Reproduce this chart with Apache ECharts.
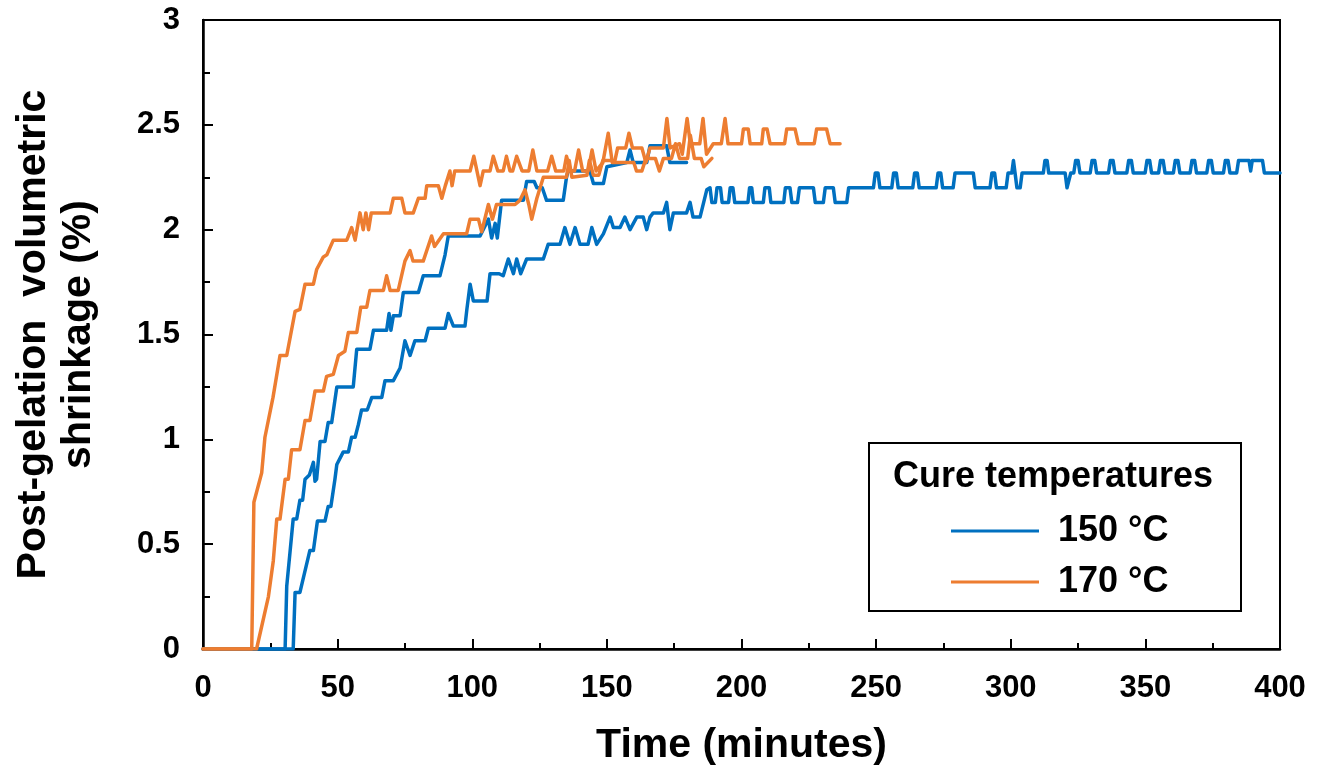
<!DOCTYPE html>
<html>
<head>
<meta charset="utf-8">
<script src="https://cdn.jsdelivr.net/npm/echarts@6/dist/echarts.min.js"></script>
<style>
html, body { margin: 0; padding: 0; background: #fff; }
#chart { width: 1323px; height: 782px; }
</style>
</head>
<body>
<div id="chart"></div>
<script>
// 150 °C, first run (stops near 180 min)
var t150a = [0, 30.5, 31.1, 32.3, 33.5, 34.8, 36, 37, 37.9, 39.5, 41, 41.6, 42.2, 43.5, 45.3, 46.5, 47.8, 49.7, 55.8, 57.1, 62, 63.3, 68.2, 69.1, 69.8, 70.7, 73.2, 74.4, 80, 81.8, 88, 89.9, 91.1, 102.9, 106, 107.2, 108.5, 109.3, 110.9, 119, 120.2, 123, 124, 126, 127.6, 133.8, 135, 135.6, 143.7, 145, 148.7, 150, 157.4, 158.6, 159.8, 164.8, 166, 172.2, 173.4, 179.6];
var v150a = [0, 0, 0.3, 0.46, 0.62, 0.62, 0.71, 0.71, 0.81, 0.83, 0.89, 0.8, 0.81, 0.99, 0.99, 1.08, 1.08, 1.25, 1.25, 1.43, 1.43, 1.52, 1.52, 1.6, 1.52, 1.59, 1.59, 1.7, 1.7, 1.78, 1.78, 1.88, 1.97, 1.97, 2.05, 1.96, 2.03, 1.96, 2.14, 2.14, 2.23, 2.23, 2.2, 2.2, 2.14, 2.14, 2.25, 2.28, 2.28, 2.22, 2.22, 2.3, 2.32, 2.38, 2.32, 2.32, 2.4, 2.4, 2.32, 2.32];

// 150 °C, second run (to 400 min)
var t150b = [0, 33.5, 34.2, 36, 39.7, 41, 42.5, 45.3, 46.5, 47.5, 49, 49.7, 52.1, 54, 55.2, 56.5, 57.7, 58.9, 61, 62.7, 66.4, 67.6, 70.7, 73.2, 75, 76.9, 78.7, 82.5, 83.7, 89.9, 91.1, 93, 97.3, 98, 99.2, 100.4, 105.5, 106.6, 110, 111.5, 113.4, 115.3, 116.5, 118, 120.2, 126.4, 128.2, 132.6, 134.4, 136.3, 138.2, 140, 143, 144.4, 146.2, 148.7, 151.2, 152.4, 154.9, 156.7, 158.6, 161.1, 163.5, 164.8, 166, 167.2, 171, 172.2, 173.4, 174.7, 179.6, 180.9, 182, 184.6,
  187.1, 188.3, 189.0,
  190.3, 190.9, 192.2, 192.8,
  195.2, 195.8, 196.8, 197.5,
  202.4, 203, 203.8, 204.4,
  208.1, 208.7, 210.3, 210.9,
  215.7, 216.3, 218, 218.7,
  220.8, 221.5, 226.7, 227.4,
  230.4, 231.1, 234.1, 234.8,
  239.1, 239.8,
  249, 249.7, 250.7, 251.4,
  255.8, 256.5, 257.5, 258.2,
  263.6, 264.3, 265.3, 266,
  272.3, 273, 274, 274.7,
  278.6, 279.3, 286.1, 286.8,
  292.3, 293, 294, 294.7,
  298.3, 299, 300.4, 301, 301.6, 302.3, 303.5, 304.2,
  312.1, 312.7, 313.5, 314.1,
  320.2, 320.9, 321.6, 322.3, 323.4, 324.1, 325, 325.7,
  329.5, 330.2, 331.2, 331.9,
  336.3, 337, 338, 338.7,
  343.1, 343.8, 344.8, 345.5,
  349.9, 350.6, 351.6, 352.3,
  354.9, 355.6, 356.6, 357.3,
  360.4, 361.1, 362.1, 362.8,
  366.6, 367.3, 368.3, 369,
  372.8, 373.5, 374.5, 375.2,
  379, 379.7, 380.7, 381.4,
  383.9, 384.6, 388.5, 389.1, 389.7, 393.5, 394.2, 400];
var v150b = [0, 0, 0.27, 0.27, 0.47, 0.47, 0.61, 0.61, 0.68, 0.68, 0.81, 0.88, 0.94, 0.94, 1.01, 1.01, 1.07, 1.14, 1.14, 1.2, 1.2, 1.28, 1.28, 1.34, 1.47, 1.4, 1.47, 1.47, 1.53, 1.53, 1.6, 1.54, 1.54, 1.62, 1.74, 1.66, 1.66, 1.79, 1.79, 1.78, 1.86, 1.79, 1.86, 1.79, 1.86, 1.86, 1.93, 1.93, 2.01, 1.93, 2.01, 1.93, 1.93, 2.01, 1.93, 1.98, 2.06, 2.01, 2.01, 2.06, 2.0, 2.06, 2.06, 2.0, 2.06, 2.08, 2.08, 2.13, 2.0, 2.08, 2.08, 2.13, 2.06, 2.06,
  2.19, 2.2, 2.13,
  2.13, 2.2, 2.2, 2.13,
  2.13, 2.2, 2.2, 2.13,
  2.13, 2.2, 2.2, 2.13,
  2.13, 2.2, 2.2, 2.13,
  2.13, 2.2, 2.2, 2.13,
  2.13, 2.2, 2.2, 2.13,
  2.13, 2.2, 2.2, 2.13,
  2.13, 2.2,
  2.2, 2.27, 2.27, 2.2,
  2.2, 2.27, 2.27, 2.2,
  2.2, 2.27, 2.27, 2.2,
  2.2, 2.27, 2.27, 2.2,
  2.2, 2.27, 2.27, 2.2,
  2.2, 2.27, 2.27, 2.2,
  2.2, 2.27, 2.27, 2.33, 2.27, 2.2, 2.2, 2.27,
  2.27, 2.33, 2.33, 2.27,
  2.27, 2.2, 2.2, 2.27, 2.27, 2.33, 2.33, 2.27,
  2.27, 2.33, 2.33, 2.27,
  2.27, 2.33, 2.33, 2.27,
  2.27, 2.33, 2.33, 2.27,
  2.27, 2.33, 2.33, 2.27,
  2.27, 2.33, 2.33, 2.27,
  2.27, 2.33, 2.33, 2.27,
  2.27, 2.33, 2.33, 2.27,
  2.27, 2.33, 2.33, 2.27,
  2.27, 2.33, 2.33, 2.27,
  2.27, 2.33, 2.33, 2.28, 2.33, 2.33, 2.27, 2.27];

// 170 °C, first run (stops near 189 min)
var t170a = [0, 18.1, 18.9, 21.8, 23, 26, 28.6, 31.1, 34.2, 36, 37.9, 41, 42.2, 44.7, 46, 48.4, 53.4, 55.2, 56.5, 58.3, 59.5, 60.5, 61.5, 62.5, 69.5, 70.7, 73.8, 75, 78.1, 80, 82.5, 83.1, 87.4, 88.7, 90, 91.7, 92.5, 93.5, 99.2, 100.6, 102.9, 104.1, 106.6, 107.8, 109.5, 111.5, 112.7, 114, 115, 116.5, 118.5, 121, 122.5, 124, 128, 129.5, 131, 134, 135, 136.5, 138, 139.5, 141, 143, 144.5, 146, 148.5, 150.5, 152, 160, 161, 163, 164.5, 168, 169.5, 171, 174, 175.5, 177, 180, 181, 182.5, 185, 186, 189];
var v170a = [0, 0, 0.7, 0.84, 1.01, 1.2, 1.4, 1.4, 1.61, 1.62, 1.74, 1.74, 1.81, 1.87, 1.88, 1.95, 1.95, 2.01, 1.95, 2.08, 2.0, 2.08, 2.0, 2.08, 2.08, 2.15, 2.15, 2.08, 2.08, 2.15, 2.15, 2.21, 2.21, 2.15, 2.21, 2.28, 2.21, 2.28, 2.28, 2.35, 2.21, 2.28, 2.28, 2.35, 2.28, 2.28, 2.35, 2.28, 2.28, 2.35, 2.28, 2.28, 2.38, 2.28, 2.28, 2.35, 2.28, 2.28, 2.35, 2.28, 2.28, 2.38, 2.28, 2.28, 2.38, 2.28, 2.32, 2.46, 2.32, 2.32, 2.28, 2.28, 2.34, 2.34, 2.28, 2.34, 2.34, 2.41, 2.34, 2.34, 2.45, 2.34, 2.34, 2.3, 2.34];

// 170 °C, second run (to ~237 min)
var t170b = [0, 19.9, 24.3, 26.1, 27.4, 28.6, 30.5, 31.7, 32.9, 36, 37.9, 39.7, 41.6, 44.7, 45.9, 48.4, 50.3, 52.7, 54, 57.1, 58.6, 60.8, 62, 67, 68.2, 69.5, 72.5, 75, 76.9, 78, 81.8, 84.9, 86, 89.3, 97.9, 99.2, 102.3, 103.5, 106, 107.5, 109, 115.9, 117.7, 119.6, 121, 122.1, 124, 126.4, 135, 136, 137, 142.6, 143.5, 145, 147, 148.5, 153, 154, 157, 158.2, 159.5, 163, 164.5, 166, 171, 172.3, 173.5, 177, 178, 179.8, 181, 184.5, 185.7, 187, 189.5, 192.5, 193.9, 195, 200, 200.7, 202.5, 203.2, 207.5, 208.1, 209.5, 210.6, 216, 216.8, 219.9, 221.1, 227, 227.9, 231.6, 232.9, 236.6];
var v170b = [0, 0, 0.25, 0.42, 0.62, 0.62, 0.81, 0.81, 0.95, 0.95, 1.09, 1.09, 1.23, 1.23, 1.3, 1.31, 1.4, 1.42, 1.51, 1.51, 1.63, 1.63, 1.71, 1.71, 1.78, 1.71, 1.71, 1.85, 1.9, 1.85, 1.85, 1.97, 1.92, 1.98, 1.98, 2.05, 2.05, 1.99, 2.12, 2.05, 2.12, 2.12, 2.14, 2.19, 2.12, 2.05, 2.15, 2.25, 2.25, 2.33, 2.25, 2.26, 2.33, 2.26, 2.26, 2.33, 2.33, 2.39, 2.39, 2.46, 2.39, 2.39, 2.32, 2.39, 2.39, 2.53, 2.39, 2.41, 2.36, 2.53, 2.41, 2.41, 2.53, 2.36, 2.41, 2.41, 2.53, 2.41, 2.41, 2.48, 2.48, 2.41, 2.41, 2.48, 2.48, 2.41, 2.41, 2.48, 2.48, 2.41, 2.41, 2.48, 2.48, 2.41, 2.41];

var xTicks = [0, 400, 50];
var yTicks = [0, 3, 0.5];
var legendNames = ["150 °C", "170 °C"];

function pairs(t, v) {
  return t.map(function (x, i) { return [x, v[i]]; });
}

var font = "'Liberation Sans', Arial, sans-serif";
var blue = "#0070C0";
var orange = "#ED7D31";

function lineSeries(name, color, t, v) {
  return {
    name: name,
    type: "line",
    showSymbol: false,
    symbol: "none",
    color: color,
    lineStyle: { width: 3.5, color: color, join: "round", cap: "round" },
    data: pairs(t, v)
  };
}

var chart = echarts.init(document.getElementById("chart"));
chart.setOption({
  animation: false,
  backgroundColor: "#fff",
  grid: {
    left: 203, right: 43, top: 20, bottom: 133,
    show: true, borderColor: "#000", borderWidth: 2
  },
  xAxis: {
    type: "value",
    min: xTicks[0], max: xTicks[1], interval: xTicks[2],
    name: "Time (minutes)",
    nameLocation: "middle",
    nameGap: 74,
    nameTextStyle: { fontFamily: font, fontWeight: "bold", fontSize: 41, color: "#000", lineHeight: 45 },
    axisLine: { lineStyle: { color: "#000", width: 2.5 } },
    axisTick: { inside: true, length: 10, lineStyle: { color: "#000", width: 2 } },
    minorTick: { show: true, splitNumber: 2, length: 6, lineStyle: { color: "#000", width: 2 } },
    splitLine: { show: false },
    axisLabel: { margin: 24, fontFamily: font, fontWeight: "bold", fontSize: 31, color: "#000" }
  },
  yAxis: {
    type: "value",
    min: yTicks[0], max: yTicks[1], interval: yTicks[2],
    name: "Post-gelation  volumetric\nshrinkage (%)",
    nameLocation: "middle",
    nameGap: 102,
    nameTextStyle: { fontFamily: font, fontWeight: "bold", fontSize: 41, color: "#000", lineHeight: 45 },
    axisLine: { lineStyle: { color: "#000", width: 2.5 } },
    axisTick: { inside: true, length: 10, lineStyle: { color: "#000", width: 2 } },
    minorTick: { show: true, splitNumber: 2, length: 7, lineStyle: { color: "#000", width: 2 } },
    splitLine: { show: false },
    axisLabel: { margin: 23, fontFamily: font, fontWeight: "bold", fontSize: 31, color: "#000" }
  },
  legend: {
    data: legendNames,
    orient: "vertical",
    left: 951, top: 511,
    padding: 0,
    z: 20,
    itemWidth: 88, itemHeight: 3, itemGap: 11,
    icon: "rect",
    selectedMode: false,
    textStyle: { fontFamily: font, fontWeight: "bold", fontSize: 36, color: "#000", lineHeight: 40, padding: [0, 0, 0, 14] }
  },
  graphic: [
    {
      type: "rect",
      x: 869, y: 443,
      shape: { x: 0, y: 0, width: 372, height: 168 },
      style: { fill: "#fff", stroke: "#000", lineWidth: 2 },
      z: 10
    },
    {
      type: "text",
      x: 1053, y: 477,
      style: {
        text: "Cure temperatures",
        font: "bold 36px " + font,
        fill: "#000",
        align: "center", verticalAlign: "middle"
      },
      z: 11
    }
  ],
  series: [
    lineSeries(legendNames[0], blue, t150a, v150a),
    lineSeries(legendNames[0], blue, t150b, v150b),
    lineSeries(legendNames[1], orange, t170a, v170a),
    lineSeries(legendNames[1], orange, t170b, v170b)
  ]
});
</script>
</body>
</html>
